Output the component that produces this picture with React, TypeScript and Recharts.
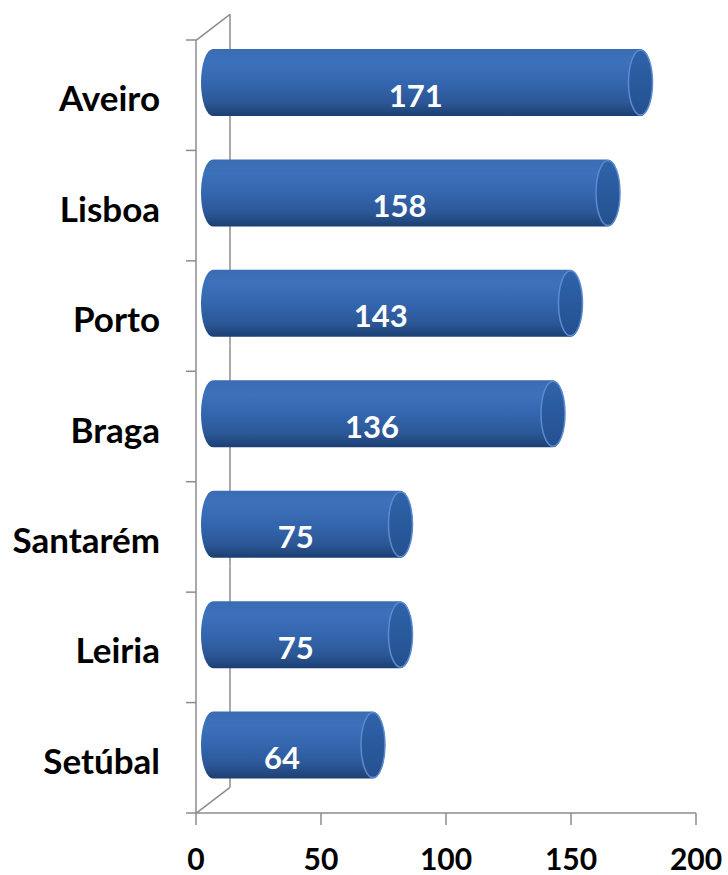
import React from "react";
import { BarChart, Bar, XAxis, YAxis, LabelList } from "recharts";

const districts = ["Aveiro", "Lisboa", "Porto", "Braga", "Santarém", "Leiria", "Setúbal"];
const counts = [171, 158, 143, 136, 75, 75, 64];
const xTicks = [0, 50, 100, 150, 200];

const data = districts.map((name, i) => ({ name, value: counts[i] }));

const FONT = "Lato, 'Open Sans', sans-serif";
const GRID = "#8c8c8c";
// 3D depth offset of the bars / back wall
const DX = 17;
const DY = -13;
const BAND = 773 / districts.length;

const Cylinder = (props: any) => {
  const { x, y, width, height } = props;
  const rx = 12;
  const x0 = x + DX;
  const x1 = x + width + DX;
  const top = y + DY;
  const bottom = top + height;
  const ry = height / 2;
  const mid = top + ry;
  return (
    <g>
      <path
        d={`M${x0},${top} L${x1},${top} A${rx},${ry} 0 0 1 ${x1},${bottom} L${x0},${bottom} A${rx},${ry} 0 0 1 ${x0},${top} Z`}
        fill="url(#cylBody)"
      />
      <ellipse cx={x1} cy={mid} rx={rx} ry={ry - 1} fill="url(#cylCap)" stroke="#5b8bd0" strokeWidth={1.5} />
    </g>
  );
};

// back wall of the 3D plot, drawn band by band behind the bars
const WallSegment = (props: any) => {
  const { x, y, height, index } = props;
  const mid = y + height / 2;
  const bTop = mid - BAND / 2;
  const bBot = mid + BAND / 2;
  const bx = x + DX * 2;
  return (
    <g stroke={GRID} strokeWidth={1.5} fill="none">
      <line x1={bx} y1={bTop + DY * 2} x2={bx} y2={bBot + DY * 2} />
      {index === 0 && <line x1={x} y1={bTop} x2={bx} y2={bTop + DY * 2} />}
      {index === districts.length - 1 && <line x1={x} y1={bBot} x2={bx} y2={bBot + DY * 2} />}
    </g>
  );
};

const CategoryTick = (props: any) => {
  const { x, y, payload, index } = props;
  const axisX = x + 36;
  const last = index === districts.length - 1;
  return (
    <g>
      <line x1={axisX - 10} x2={axisX} y1={y - BAND / 2} y2={y - BAND / 2} stroke={GRID} strokeWidth={1.5} />
      {last && (
        <line x1={axisX - 10} x2={axisX} y1={y + BAND / 2} y2={y + BAND / 2} stroke={GRID} strokeWidth={1.5} />
      )}
      <text
        x={x}
        y={y + 2}
        textAnchor="end"
        dominantBaseline="central"
        fontFamily={FONT}
        fontWeight={700}
        fontSize={35}
        fill="#000"
      >
        {payload.value}
      </text>
    </g>
  );
};

const ValueTick = (props: any) => {
  const { x, y, payload } = props;
  return (
    <text
      x={x}
      y={y + 31}
      textAnchor="middle"
      dominantBaseline="central"
      fontFamily={FONT}
      fontWeight={700}
      fontSize={30}
      fill="#000"
    >
      {payload.value}
    </text>
  );
};

const InsideLabel = (props: any) => {
  const { x, y, width, height, value } = props;
  return (
    <text
      x={x + width / 2 + 6}
      y={y + height / 2 - 1}
      textAnchor="middle"
      dominantBaseline="central"
      fontFamily={FONT}
      fontWeight={700}
      fontSize={31}
      fill="#fff"
    >
      {value}
    </text>
  );
};

export default function App() {
  return (
    <div style={{ position: "absolute", left: 0, top: 0, width: 728, height: 875, background: "#fff" }}>
      <BarChart
        width={728}
        height={875}
        data={data}
        layout="vertical"
        margin={{ top: 40, right: 32, bottom: 0, left: 0 }}
        barSize={67}
      >
        <defs>
          <linearGradient id="cylBody" x1="0" y1="0" x2="0" y2="1">
            <stop offset="0%" stopColor="#3a6cb3" />
            <stop offset="20%" stopColor="#3c71bb" />
            <stop offset="50%" stopColor="#3466af" />
            <stop offset="80%" stopColor="#2b5796" />
            <stop offset="100%" stopColor="#1c3f72" />
          </linearGradient>
          <linearGradient id="cylCap" x1="0" y1="0" x2="0" y2="1">
            <stop offset="0%" stopColor="#2f63aa" />
            <stop offset="100%" stopColor="#24508f" />
          </linearGradient>
        </defs>
        <XAxis
          type="number"
          domain={[0, 200]}
          ticks={xTicks}
          interval={0}
          axisLine={{ stroke: GRID, strokeWidth: 1.5 }}
          tickLine={{ stroke: GRID, strokeWidth: 1.5 }}
          tickSize={12}
          height={62}
          tick={<ValueTick />}
        />
        <YAxis
          type="category"
          dataKey="name"
          width={196}
          axisLine={{ stroke: GRID, strokeWidth: 1.5 }}
          tickLine={false}
          tickSize={0}
          tickMargin={36}
          interval={0}
          tick={<CategoryTick />}
        />
        <Bar dataKey="value" shape={<Cylinder />} background={<WallSegment />} isAnimationActive={false}>
          <LabelList dataKey="value" content={<InsideLabel />} />
        </Bar>
      </BarChart>
    </div>
  );
}
